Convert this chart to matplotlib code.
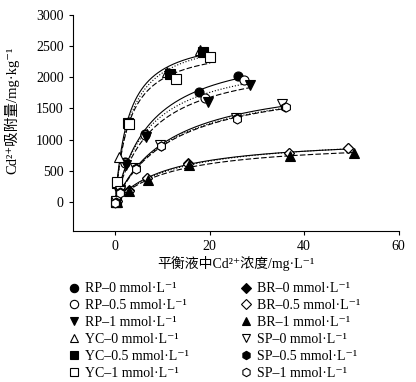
import numpy as np
import matplotlib
matplotlib.use('Agg')
import matplotlib.pyplot as plt
from matplotlib.lines import Line2D

plt.rcParams['font.family'] = ['Liberation Serif', 'Noto Sans CJK SC', 'DejaVu Serif']
plt.rcParams['font.size'] = 10

# --- data (C_e in mg/L, q_e in mg/kg) ---
yc0_x = [0.1, 0.8, 2.7, 11.0, 18.0]
yc0_y = [20, 720, 1280, 2080, 2430]
yc05_x = [0.05, 0.3, 2.7, 11.5, 18.5]
yc05_y = [0, 300, 1260, 2050, 2400]
yc1_x = [0.1, 0.3, 2.8, 12.9, 20.1]
yc1_y = [0, 325, 1250, 1970, 2320]

rp0_x = [0.2, 0.8, 2.0, 6.2, 17.7, 26.0]
rp0_y = [10, 220, 640, 1090, 1760, 2020]
rp05_x = [0.1, 0.9, 2.1, 6.3, 18.9, 27.3]
rp05_y = [0, 230, 630, 1080, 1670, 1950]
rp1_x = [0.2, 1.0, 2.3, 6.5, 19.6, 28.5]
rp1_y = [20, 200, 600, 1050, 1610, 1880]

sp0_x = [0.2, 1.0, 4.2, 9.5, 25.5, 35.3]
sp0_y = [10, 170, 550, 910, 1350, 1570]
sp05_x = [0.1, 1.0, 4.3, 9.6, 25.7, 36.0]
sp05_y = [0, 160, 540, 900, 1340, 1530]
sp1_x = [0.0, 1.1, 4.4, 9.6, 25.8, 36.1]
sp1_y = [-10, 150, 530, 900, 1330, 1520]

br0_x = [0.3, 2.8, 6.7, 15.4, 36.7, 49.4]
br0_y = [20, 190, 390, 620, 780, 860]
br05_x = [0.3, 2.9, 6.8, 15.5, 36.7, 49.4]
br05_y = [10, 180, 380, 610, 780, 860]
br1_x = [0.4, 3.0, 7.0, 15.7, 37.1, 50.6]
br1_y = [0, 170, 350, 600, 740, 780]

labels = ['RP–0 mmol·L⁻¹', 'RP–0.5 mmol·L⁻¹', 'RP–1 mmol·L⁻¹',
          'YC–0 mmol·L⁻¹', 'YC–0.5 mmol·L⁻¹', 'YC–1 mmol·L⁻¹',
          'BR–0 mmol·L⁻¹', 'BR–0.5 mmol·L⁻¹', 'BR–1 mmol·L⁻¹',
          'SP–0 mmol·L⁻¹', 'SP–0.5 mmol·L⁻¹', 'SP–1 mmol·L⁻¹']

series = [
    (rp0_x, rp0_y, 'o', True, '-'),
    (rp05_x, rp05_y, 'o', False, ':'),
    (rp1_x, rp1_y, 'v', True, (0, (5, 2))),
    (yc0_x, yc0_y, '^', False, '-'),
    (yc05_x, yc05_y, 's', True, ':'),
    (yc1_x, yc1_y, 's', False, (0, (5, 2))),
    (br0_x, br0_y, 'D', True, '-'),
    (br05_x, br05_y, 'D', False, ':'),
    (br1_x, br1_y, '^', True, (0, (5, 2))),
    (sp0_x, sp0_y, 'v', False, '-'),
    (sp05_x, sp05_y, 'h', True, ':'),
    (sp1_x, sp1_y, 'h', False, (0, (5, 2))),
]


def langmuir_fit(x, y):
    """grid search on K, Qm solved by least squares"""
    x = np.asarray(x, float)
    y = np.asarray(y, float)
    best = None
    for k in np.logspace(-3, 1, 2000):
        f = k * x / (1 + k * x)
        qm = (f @ y) / (f @ f)
        err = np.sum((qm * f - y) ** 2)
        if best is None or err < best[0]:
            best = (err, qm, k)
    return best[1], best[2]


fig = plt.figure(figsize=(4.16, 3.82), dpi=100)
ax = fig.add_axes([0.175, 0.395, 0.783, 0.566])

for x, y, m, filled, ls in series:
    qm, k = langmuir_fit(x, y)
    xx = np.linspace(0, max(x), 300)
    ax.plot(xx, qm * k * xx / (1 + k * xx), color='black', lw=0.8, ls=ls, zorder=2)

handles = []
for (x, y, m, filled, ls), lab in zip(series, labels):
    ms = 5.5 if m == 'D' else 6.5
    fc = 'black' if filled else 'white'
    ax.plot(x, y, ls='none', marker=m, ms=ms, mfc=fc, mec='black', mew=0.8, zorder=3)
    handles.append(Line2D([], [], ls='none', marker=m, ms=ms - 0.5, mfc=fc,
                          mec='black', mew=0.8, label=lab))

ax.set_xlim(-9, 60)
ax.set_ylim(-465, 3000)
ax.set_xticks([0, 20, 40, 60])
ax.set_yticks(np.arange(0, 3001, 500))
ax.spines['top'].set_visible(False)
ax.spines['right'].set_visible(False)
ax.tick_params(direction='out', length=3, width=0.8, labelsize=10)
ax.set_xlabel('平衡液中Cd²⁺浓度/mg·L⁻¹', labelpad=2, fontsize=10)
ax.set_ylabel('Cd²⁺吸附量/mg·kg⁻¹', labelpad=4, fontsize=10.5)
ax.yaxis.set_label_coords(-0.165, 0.56)

fig.legend(handles=handles, ncol=2, loc='upper left',
           bbox_to_anchor=(0.145, 0.279), frameon=False,
           handlelength=1.0, handletextpad=0.3, labelspacing=0.28,
           columnspacing=3.6, borderpad=0, fontsize=10)

fig.savefig('out.png', dpi=100)
